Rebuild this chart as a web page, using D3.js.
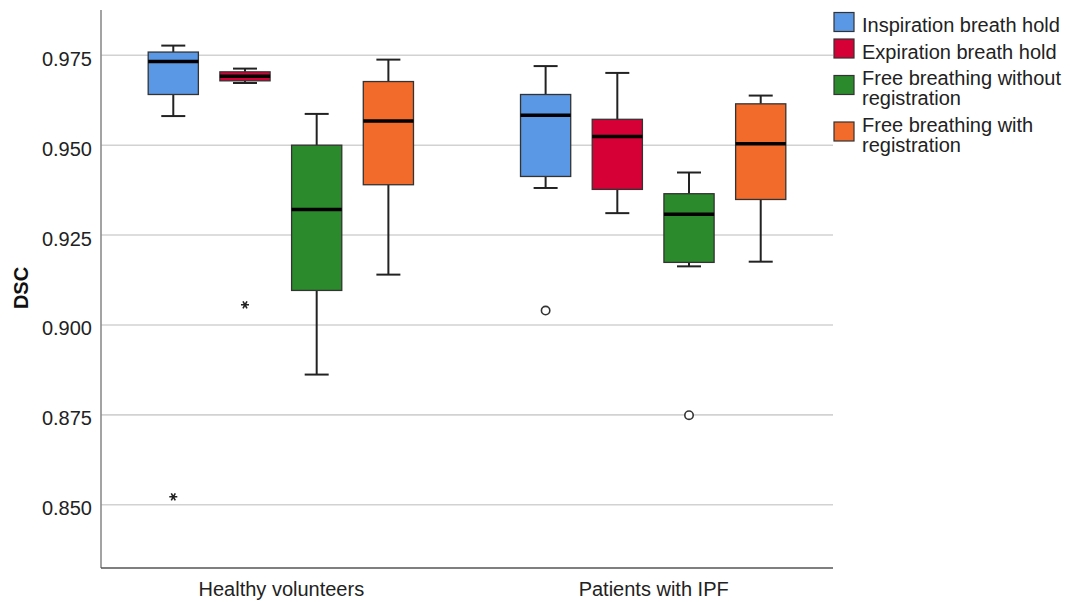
<!DOCTYPE html>
<html>
<head>
<meta charset="utf-8">
<script src="https://d3js.org/d3.v7.min.js"></script>
<style>
  body { margin: 0; background: #fff; }
  text { font-family: "Liberation Sans", Arial, sans-serif; }
</style>
</head>
<body>
<div id="boxplot"></div>
<script>
// categories
var groups = ["Healthy volunteers", "Patients with IPF"];
var series = ["Inspiration breath hold", "Expiration breath hold",
              "Free breathing without registration", "Free breathing with registration"];
var legendLines = [["Inspiration breath hold"], ["Expiration breath hold"],
                   ["Free breathing without", "registration"], ["Free breathing with", "registration"]];
var colors = ["#5a97e4", "#d60036", "#2b8a2b", "#f36b2b"];

// box statistics, order: HV x 4 series, then IPF x 4 series
var whiskerLo = [0.9581, 0.9673, 0.8862, 0.9140, 0.9381, 0.9311, 0.9163, 0.9176];
var q1        = [0.9641, 0.9679, 0.9096, 0.9390, 0.9413, 0.9377, 0.9174, 0.9349];
var median    = [0.9733, 0.9692, 0.9321, 0.9567, 0.9583, 0.9524, 0.9308, 0.9504];
var q3        = [0.9759, 0.9704, 0.9500, 0.9677, 0.9641, 0.9572, 0.9365, 0.9615];
var whiskerHi = [0.9777, 0.9713, 0.9587, 0.9738, 0.9720, 0.9701, 0.9424, 0.9638];

// outliers: group index, series index, value, kind
var outliers = [
  [0, 0, 0.8522, "extreme"],
  [0, 1, 0.9056, "extreme"],
  [1, 0, 0.9040, "outlier"],
  [1, 2, 0.8749, "outlier"]
];

var yTicks = [0.850, 0.875, 0.900, 0.925, 0.950, 0.975];

var width = 1070, height = 602;
var plot = {left: 101, right: 833, top: 10, bottom: 568};

var svg = d3.select("#boxplot")
  .append("svg")
    .attr("width", width)
    .attr("height", height);

// scales
var y = d3.scaleLinear()
  .domain([0.8324, 0.9876])
  .range([plot.bottom, plot.top]);

var x0 = d3.scalePoint()
  .domain(groups)
  .range([plot.left, plot.right])
  .padding(0.483);

var x1 = d3.scaleBand()
  .domain(series)
  .range([-143.4, 143.4])
  .paddingInner(0.3)
  .paddingOuter(0.15);

// gridlines
svg.append("g")
  .selectAll("line")
  .data(yTicks)
  .enter()
  .append("line")
    .attr("x1", plot.left)
    .attr("x2", plot.right)
    .attr("y1", d => y(d))
    .attr("y2", d => y(d))
    .attr("stroke", "#d2d2d2")
    .attr("stroke-width", 1.6);

// Y axis
var yAxis = svg.append("g")
  .attr("transform", "translate(" + plot.left + ",0)")
  .call(d3.axisLeft(y).tickValues(yTicks).tickFormat(d3.format(".3f")).tickSize(0).tickPadding(9));
yAxis.select(".domain").remove();
yAxis.selectAll("text")
  .attr("dy", "0.5em")
  .style("font-size", "20px")
  .style("fill", "#222");

svg.append("line")
  .attr("x1", plot.left).attr("x2", plot.left)
  .attr("y1", plot.top).attr("y2", plot.bottom)
  .attr("stroke", "#8c8c8c")
  .attr("stroke-width", 1.6);

// X axis
var xAxis = svg.append("g")
  .attr("transform", "translate(0," + plot.bottom + ")")
  .call(d3.axisBottom(x0).tickSize(0).tickPadding(14));
xAxis.select(".domain").remove();
xAxis.selectAll("text")
  .attr("dy", "0.71em")
  .style("font-size", "20px")
  .style("fill", "#222");

svg.append("line")
  .attr("x1", plot.left).attr("x2", plot.right)
  .attr("y1", plot.bottom).attr("y2", plot.bottom)
  .attr("stroke", "#555")
  .attr("stroke-width", 1.6);

// Y label
svg.append("text")
  .attr("transform", "translate(28,288)rotate(-90)")
  .attr("text-anchor", "middle")
  .style("font-size", "20px")
  .style("font-weight", "bold")
  .style("fill", "#111")
  .text("DSC");

// boxes
var boxes = [];
groups.forEach(function(g, gi) {
  series.forEach(function(s, si) {
    var i = gi * series.length + si;
    boxes.push({group: g, series: s, color: colors[si],
      lo: whiskerLo[i], q1: q1[i], med: median[i], q3: q3[i], hi: whiskerHi[i]});
  });
});

var bw = x1.bandwidth();
var cap = 24;

var box = svg.append("g")
  .selectAll("g")
  .data(boxes)
  .enter()
  .append("g")
    .attr("transform", d => "translate(" + (x0(d.group) + x1(d.series) + bw / 2) + ",0)");

// whisker stems
box.append("line")
  .attr("x1", 0).attr("x2", 0)
  .attr("y1", d => y(d.hi)).attr("y2", d => y(d.q3))
  .attr("stroke", "#222").attr("stroke-width", 2);
box.append("line")
  .attr("x1", 0).attr("x2", 0)
  .attr("y1", d => y(d.q1)).attr("y2", d => y(d.lo))
  .attr("stroke", "#222").attr("stroke-width", 2);
// caps
box.append("line")
  .attr("x1", -cap / 2).attr("x2", cap / 2)
  .attr("y1", d => y(d.hi)).attr("y2", d => y(d.hi))
  .attr("stroke", "#222").attr("stroke-width", 2);
box.append("line")
  .attr("x1", -cap / 2).attr("x2", cap / 2)
  .attr("y1", d => y(d.lo)).attr("y2", d => y(d.lo))
  .attr("stroke", "#222").attr("stroke-width", 2);

box.append("rect")
  .attr("x", -bw / 2)
  .attr("width", bw)
  .attr("y", d => y(d.q3))
  .attr("height", d => y(d.q1) - y(d.q3))
  .attr("fill", d => d.color)
  .attr("stroke", "#333")
  .attr("stroke-width", 1.3);

box.append("line")
  .attr("x1", -bw / 2).attr("x2", bw / 2)
  .attr("y1", d => y(d.med)).attr("y2", d => y(d.med))
  .attr("stroke", "#000").attr("stroke-width", 3.5);

// outliers
var out = svg.append("g")
  .selectAll("g")
  .data(outliers)
  .enter()
  .append("g")
    .attr("transform", d => "translate(" + (x0(groups[d[0]]) + x1(series[d[1]]) + bw / 2) + "," + y(d[2]) + ")");

out.filter(d => d[3] === "outlier")
  .append("circle")
    .attr("r", 4.2)
    .attr("fill", "#fff")
    .attr("stroke", "#333")
    .attr("stroke-width", 1.6);

out.filter(d => d[3] === "extreme")
  .append("path")
    .attr("d", d3.symbol().type(d3.symbolAsterisk).size(45))
    .attr("transform", "rotate(90)")
    .attr("fill", "none")
    .attr("stroke", "#222")
    .attr("stroke-width", 1.6);

// legend
var legend = svg.append("g");
var baseline = 32;
legendLines.forEach(function(lines, i) {
  var first = baseline, last = baseline + (lines.length - 1) * 20;
  var cy = (first + last) / 2 - 10;
  legend.append("rect")
    .attr("x", 834)
    .attr("y", cy - 9.5)
    .attr("width", 20)
    .attr("height", 19)
    .attr("fill", colors[i])
    .attr("stroke", "#333")
    .attr("stroke-width", 1.2);
  lines.forEach(function(t, li) {
    legend.append("text")
      .attr("x", 862)
      .attr("y", first + li * 20)
      .style("font-size", "20px")
      .style("fill", "#222")
      .text(t);
  });
  baseline = last + 26.5;
});
</script>
</body>
</html>
